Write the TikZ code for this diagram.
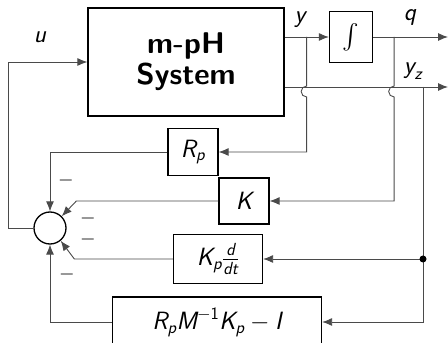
\RequirePackage{fix-cm}
\documentclass[tikz,border=0pt]{standalone}
\usepackage{amsmath}
\usepackage{tikz}
\usetikzlibrary{arrows.meta,calc}
\definecolor{WireGray}{HTML}{4A4A4A}
\newcommand{\vsf}[1]{\text{\sffamily\itshape #1}}

\tikzset{
  blk/.style={draw=black,line width=1.3pt,inner sep=0pt,align=center},
  wire/.style={draw=WireGray,line width=0.9pt},
  lbl/.style={inner sep=0pt},
  sgn/.style={inner sep=0pt,font=\sffamily\fontsize{20}{20}\selectfont}
}

\begin{document}
\begin{tikzpicture}[x=1pt,y=1pt,>={Latex[length=10pt,width=8pt]},
    font=\sffamily\fontsize{25}{27}\selectfont]
  \useasboundingbox (0,0) rectangle (448,343);
  % plant and integrator
  \node[blk,minimum width=196,minimum height=108,
    font=\sffamily\bfseries\fontsize{30}{31}\selectfont] (sys) at (186,281) {m-pH\\System};
  \node[blk,minimum width=43,minimum height=51] (integ) at (351,306) {$\int$};
  % feedback blocks
  \node[blk,minimum width=50,minimum height=47] (rp) at (193,191) {$\vsf{R}_{\vsf{p}}$};
  \node[blk,minimum width=50,minimum height=46] (kg) at (244,142) {$\vsf{K}$};
  \node[blk,minimum width=89,minimum height=49] (kpd) at (218,84)
    {$\vsf{K}_{\vsf{p}}\frac{\vsf{d}}{\vsf{dt}}$};
  \node[blk,minimum width=209,minimum height=50] (rmk) at (217,21)
    {$\vsf{R}_{\vsf{p}}\vsf{M}^{-\text{1}}\vsf{K}_{\vsf{p}}-\vsf{I}$};
  \node[draw,circle,line width=1.3pt,minimum size=32,inner sep=0pt] (sum) at (50,115) {};
  % branch points
  \coordinate (yb) at ($(sys.east)+(22,25)$);
  \coordinate (qb) at ($(integ.east)+(21,0)$);
  \coordinate (zb) at (423,256);
  \coordinate (qout) at (448,306);
  \coordinate (zout) at (448,256);
  \coordinate (dot) at (zb |- kpd.east);
  % forward path
  \draw[wire,->] ($(sys.east)+(0,25)$) -- (integ.west);
  \draw[wire,->] (integ.east) -- (qout);
  \draw[wire,->] ($(sys.east)+(0,-25)$) -- (zout);
  \draw[wire,->] (sum.west) -- ++(-25,0) |- (sys.west);
  % feedback paths
  \draw[wire,->] (yb) -- ++(0,-49) arc (90:270:5.5) |- (rp.east);
  \draw[wire,->] (qb) -- ++(0,-49) arc (90:270:5.5) |- (kg.east);
  \draw[wire,->] (zb) |- (kpd.east);
  \draw[wire,->] (zb) |- (rmk.east);
  \fill[black] (dot) circle (3.5);
  \draw[wire,->] (rp.west) -| (sum.north);
  \draw[wire,->] (kg.west) -- ++(-142,0) -- (sum.45);
  \draw[wire,->] (kpd.west) -- ++(-98.5,0) -- (sum.-50);
  \draw[wire,->] (rmk.west) -| (sum.south);
  % labels
  \node[lbl] (ulab) at (40,306) {$\vsf{u}$};
  \node[lbl] (ylab) at (300,323) {$\vsf{y}$};
  \node[lbl] (qlab) at (410,326) {$\vsf{q}$};
  \node[lbl] (zlab) at (413,272) {$\vsf{y}_{\vsf{z}}$};
  \node[sgn] (m1) at (66,162) {$-$};
  \node[sgn] (m2) at (88,124) {$-$};
  \node[sgn] (m3) at (88,103) {$-$};
  \node[sgn] (m4) at (67,68) {$-$};
\end{tikzpicture}
\end{document}
